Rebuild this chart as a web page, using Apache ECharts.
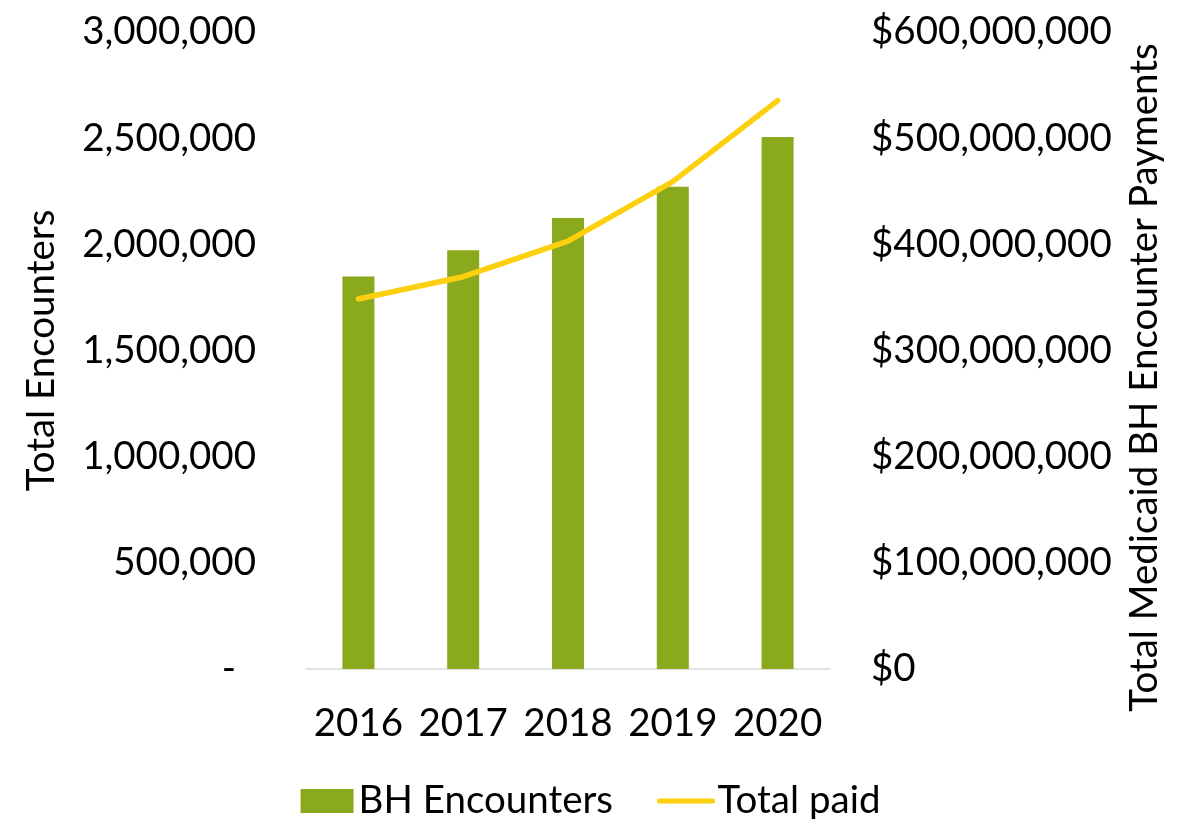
<!DOCTYPE html>
<html>
<head>
<meta charset="utf-8">
<script src="https://cdn.jsdelivr.net/npm/echarts@6/dist/echarts.min.js"></script>
<style>
html,body{margin:0;padding:0;background:#fff;}
#chart{width:1181px;height:819px;}
</style>
</head>
<body>
<div id="chart"></div>
<script>
var categories = ['2016', '2017', '2018', '2019', '2020'];
var encounters = [1848000, 1972000, 2124000, 2271000, 2505000];
var totalPaid = [348500000, 369500000, 403000000, 459000000, 535300000];
var leftTicks = [0, 500000, 1000000, 1500000, 2000000, 2500000, 3000000];
var rightTicks = [0, 100000000, 200000000, 300000000, 400000000, 500000000, 600000000];

var FONT = 'Lato';
var FS = 38.5;
function commas(v) { return String(Math.round(v)).replace(/\B(?=(\d{3})+(?!\d))/g, ','); }

var chart = echarts.init(document.getElementById('chart'));
chart.setOption({
  animation: false,
  backgroundColor: '#ffffff',
  textStyle: { fontFamily: FONT },
  grid: { left: 306, right: 351, top: 32, bottom: 150, containLabel: false },
  legend: {
    data: [
      { name: 'BH Encounters', icon: 'rect' },
      { name: 'Total paid', itemStyle: { opacity: 0 }, lineStyle: { width: 5, cap: 'round' } }
    ],
    left: 'center',
    top: 776,
    itemWidth: 53,
    itemHeight: 24,
    itemGap: 44,
    textStyle: { fontFamily: FONT, fontSize: FS, color: '#000', lineHeight: 40 }
  },
  xAxis: {
    type: 'category',
    data: categories,
    axisLine: { show: true, lineStyle: { color: '#D9D9D9', width: 1.5 } },
    axisTick: { show: false },
    axisLabel: { interval: 0, fontFamily: FONT, fontSize: FS, color: '#000', margin: 35, lineHeight: 40 }
  },
  yAxis: [
    {
      type: 'value',
      min: leftTicks[0],
      max: leftTicks[leftTicks.length - 1],
      interval: leftTicks[1] - leftTicks[0],
      name: 'Total Encounters',
      nameLocation: 'middle',
      nameGap: 245,
      nameRotate: 90,
      nameTextStyle: { fontFamily: FONT, fontSize: FS, color: '#000' },
      axisLine: { show: false },
      axisTick: { show: false },
      splitLine: { show: false },
      axisLabel: {
        fontFamily: FONT, fontSize: FS, color: '#000', margin: 50,
        formatter: function (v) { return v === 0 ? '{z|-}' : commas(v); },
        rich: { z: { fontFamily: FONT, fontSize: FS, color: '#000', padding: [0, 20, 0, 0] } }
      }
    },
    {
      type: 'value',
      min: rightTicks[0],
      max: rightTicks[rightTicks.length - 1],
      interval: rightTicks[1] - rightTicks[0],
      name: 'Total Medicaid BH Encounter Payments',
      nameLocation: 'middle',
      nameGap: 295,
      nameRotate: 90,
      nameTextStyle: { fontFamily: FONT, fontSize: FS, color: '#000', padding: [0, 54, 0, 0] },
      axisLine: { show: false },
      axisTick: { show: false },
      splitLine: { show: false },
      axisLabel: {
        fontFamily: FONT, fontSize: FS, color: '#000', margin: 41,
        formatter: function (v) { return '$' + commas(v); }
      }
    }
  ],
  series: [
    {
      name: 'BH Encounters',
      type: 'bar',
      yAxisIndex: 0,
      data: encounters,
      barWidth: 32,
      itemStyle: { color: '#8AA91D' }
    },
    {
      name: 'Total paid',
      type: 'line',
      yAxisIndex: 1,
      data: totalPaid,
      showSymbol: false,
      symbol: 'none',
      itemStyle: { color: '#FDD00F' },
      lineStyle: { color: '#FDD00F', width: 5.5, cap: 'round', join: 'round' }
    }
  ]
});
</script>
</body>
</html>
